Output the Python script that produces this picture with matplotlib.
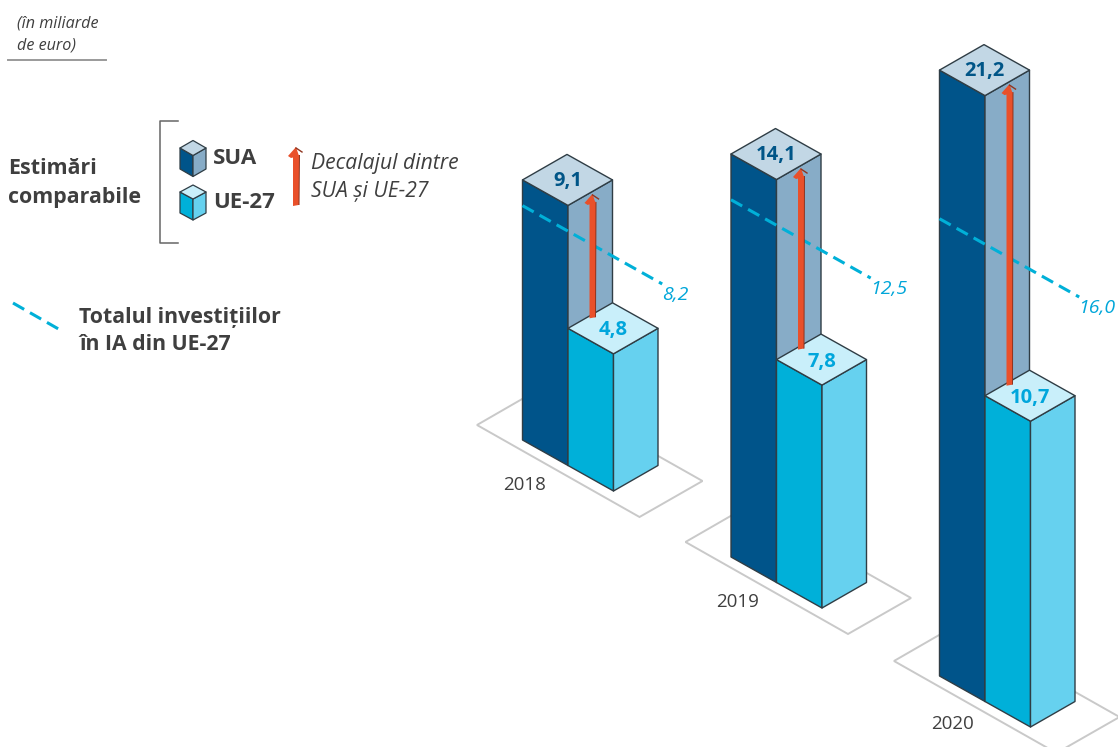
import matplotlib
matplotlib.use("Agg")
import matplotlib.pyplot as plt
from matplotlib.patches import Polygon

plt.rcParams['font.family'] = ['Open Sans', 'Noto Sans', 'DejaVu Sans']

# valori (miliarde de euro)
years = ['2018', '2019', '2020']
us_values = [9.1, 14.1, 21.2]
eu_values = [4.8, 7.8, 10.7]
total_eu_values = [8.2, 12.5, 16.0]

# asezare in pixeli
base_points = [(522.5, 440), (731, 557), (939.5, 676)]
year_offsets = [(2.5, 45), (7, 45), (12.5, 48)]
total_label_dx = [13, 18, 18]
px_per_unit = 28.58
U = (45.5, 25.5)
V = (44.5, -25.5)

US_COLORS = ('#00548a', '#87acc7', '#c2d7e5')
EU_COLORS = ('#00b0d9', '#66d1ef', '#c9effa')
EDGE = '#2f3d45'
TEXT = '#3f3f3f'
DASH = '#00b0d8'
LABEL_BLUE = '#00a6d9'
ORANGE = '#e9502a'
SHADOW = '#8f3520'


def add(p, vec, k=1.0):
    return (p[0] + k * vec[0], p[1] + k * vec[1])


def draw_box(ax, origin, height, colors, u=U, v=V, lw=1.0, z=3):
    """cutie izometrica: origin e coltul din stanga jos"""
    front = add(origin, u)
    right = add(front, v)
    up = (0, -height)
    faces = [
        ([origin, front, add(front, up), add(origin, up)], colors[0]),
        ([front, right, add(right, up), add(front, up)], colors[1]),
        ([add(origin, up), add(front, up), add(right, up), add(add(origin, v), up)], colors[2]),
    ]
    for pts, color in faces:
        ax.add_patch(Polygon(pts, closed=True, facecolor=color, edgecolor=EDGE,
                             linewidth=lw, joinstyle='round', zorder=z))


def draw_gap_arrow(ax, x, y_base, y_tip, z=5):
    """sageata portocalie cu umbra subtire"""
    ax.add_patch(Polygon([(x + 2, y_tip + 8), (x + 4, y_tip + 8), (x + 3.5, y_base), (x + 2, y_base)],
                         closed=True, facecolor=SHADOW, edgecolor='none', zorder=z))
    ax.add_patch(Polygon([(x - 3, y_tip + 8), (x + 3, y_tip + 8), (x + 2.5, y_base), (x - 3, y_base + 1)],
                         closed=True, facecolor=ORANGE, edgecolor='none', zorder=z + 0.1))
    ax.add_patch(Polygon([(x, y_tip), (x - 8, y_tip + 9), (x - 5, y_tip + 11), (x + 3, y_tip + 9)],
                         closed=True, facecolor=ORANGE, edgecolor='none', zorder=z + 0.2))
    ax.plot([x, x + 6], [y_tip + 1, y_tip + 5], color=SHADOW, lw=1, zorder=z + 0.2)


fig = plt.figure(figsize=(11.18, 7.47), dpi=100, facecolor='white')
ax = fig.add_axes([0, 0, 1, 1])
ax.set_xlim(0, 1118)
ax.set_ylim(747, 0)
ax.axis('off')

for i, year in enumerate(years):
    p0 = base_points[i]
    p1 = add(p0, U)

    # placa de jos
    plate = [add(p0, (-45.5, -15)), add(p0, (117, 77)), add(p0, (180, 41)), add(p0, (17, -51))]
    ax.add_patch(Polygon(plate, closed=True, facecolor='white', edgecolor='#c9c9c9',
                         linewidth=1.4, zorder=1))

    us_h = us_values[i] * px_per_unit
    eu_h = eu_values[i] * px_per_unit
    draw_box(ax, p0, us_h, US_COLORS)
    draw_box(ax, p1, eu_h, EU_COLORS)

    # linia pentru totalul UE
    total_start = (p0[0], p0[1] - total_eu_values[i] * px_per_unit)
    total_end = add(total_start, U, 3.07)
    ax.plot([total_start[0], total_end[0]], [total_start[1], total_end[1]], color=DASH, lw=2.2,
            dashes=(4.2, 2.2), zorder=4)
    ax.text(total_end[0] + total_label_dx[i], total_end[1] + 11,
            f"{total_eu_values[i]:.1f}".replace('.', ','), color=LABEL_BLUE, style='italic',
            fontsize=14, ha='center', va='center', zorder=7)

    draw_gap_arrow(ax, p0[0] + 70, p1[1] - eu_h - 11, p0[1] - us_h + 14)

    ax.text(p0[0] + 45, p0[1] - us_h + 1, f"{us_values[i]:.1f}".replace('.', ','), color='#005587',
            fontweight='bold', fontsize=14.5, ha='center', va='center', zorder=8)
    ax.text(p1[0] + 45, p1[1] - eu_h + 2, f"{eu_values[i]:.1f}".replace('.', ','), color='#00a6dc',
            fontweight='bold', fontsize=14.5, ha='center', va='center', zorder=8)

    ax.text(p0[0] + year_offsets[i][0], p0[1] + year_offsets[i][1], year, color=TEXT,
            fontsize=13.5, ha='center', va='center', zorder=8)

# --- legenda ---
ax.text(17, 24, '(în miliarde', style='italic', fontsize=11.6, color=TEXT, va='center')
ax.text(17, 46, 'de euro)', style='italic', fontsize=11.6, color=TEXT, va='center')
ax.plot([8, 106], [59.5, 59.5], color='#9a9a9a', lw=1.4)

ax.text(8, 168, 'Estimări', fontweight='bold', fontsize=15.4, color=TEXT, va='center')
ax.text(8, 197, 'comparabile', fontweight='bold', fontsize=15.4, color=TEXT, va='center')
ax.plot([178, 160, 160, 178], [121, 121, 243, 243], color='#666666', lw=1.1)

draw_box(ax, (180, 169), 21, US_COLORS, u=(13, 7.5), v=(13, -7.5), lw=0.9)
draw_box(ax, (180, 213), 21, EU_COLORS, u=(13, 7), v=(13, -7), lw=0.9)
ax.text(213, 158, 'SUA', fontweight='bold', fontsize=16, color=TEXT, va='center')
ax.text(213, 202, 'UE-27', fontweight='bold', fontsize=16, color=TEXT, va='center')

draw_gap_arrow(ax, 296, 205, 147)
ax.text(311, 164, 'Decalajul dintre', style='italic', fontsize=15.2, color=TEXT, va='center')
ax.text(311, 192, 'SUA și UE-27', style='italic', fontsize=15.2, color=TEXT, va='center')

ax.plot([13, 62], [303, 331], color=DASH, lw=2.2, dashes=(4.2, 2.2))
ax.text(79, 317, 'Totalul investițiilor', fontweight='bold', fontsize=15.3, color=TEXT, va='center')
ax.text(79, 345, 'în IA din UE-27', fontweight='bold', fontsize=15.3, color=TEXT, va='center')

fig.savefig('out.png', dpi=100)
